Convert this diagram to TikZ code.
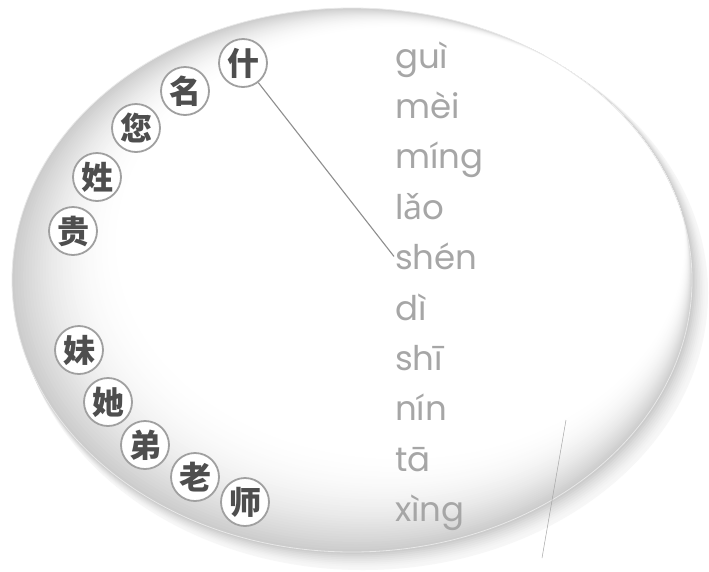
\documentclass[tikz,border=0pt]{standalone}
\usepackage{fontspec}
\newfontfamily\cjk{Noto Sans CJK SC}
\newfontfamily\pyfont{Poppins}
\newfontfamily\pyext{Noto Sans}
\definecolor{ringgray}{HTML}{A0A0A0}
\definecolor{chargray}{HTML}{4E4E4E}
\definecolor{pygray}{HTML}{A6A6A6}
\definecolor{linegray}{HTML}{8E8E8E}
\tikzset{
  chr/.style={circle, fill=white, draw=ringgray, line width=1.8pt, minimum size=48pt, inner sep=0pt,
    text=chargray, font=\cjk\bfseries\fontsize{32}{32}\selectfont},
  py/.style={anchor=base west, inner sep=0pt, text=pygray, font=\pyfont\fontsize{34}{34}\selectfont},
  conn/.style={draw=linegray, line width=1.1pt}
}
\begin{document}
\begin{tikzpicture}[x=1pt, y=-1pt]
\useasboundingbox (0,0) rectangle (709,571);
\fill[white] (0,0) rectangle (709,571);
% soft plate shadow
\foreach \j in {10,...,1}{
  \pgfmathsetmacro\q{3+20*(1-\j/10)^1.5}
  \fill[black!\q!white] ({352+1.1*\j},{280+1.3*\j}) ellipse [x radius={(340+0.5*\j)*1pt}, y radius={(272+0.5*\j)*1pt}];
}
% plate with soft shading
\begin{scope}
\clip (352,280) ellipse [x radius=340pt, y radius=272pt];
\foreach \k in {0,...,40}{
  \pgfmathsetmacro\t{\k/40}
  \pgfmathsetmacro\p{20*(1-\t)*(1-\t)}
  \fill[black!\p!white] ({352+1.3*\k},{280-1.0*\k}) ellipse [x radius={(340-1.5*\k)*1pt}, y radius={(272-1.5*\k)*1pt}];
}
\end{scope}
\draw[black!9, line width=0.8pt] (352,280) ellipse [x radius=340pt, y radius=272pt];
% faint crease
\draw[black!35, line width=0.5pt] (566,420) -- (542,558);
% characters
\node[chr] (c-shen) at (243,63) {什};
\node[chr] (c-ming) at (185,91) {名};
\node[chr] (c-nin)  at (136,128) {您};
\node[chr] (c-xing) at (97,177) {姓};
\node[chr] (c-gui)  at (73,231) {贵};
\node[chr] (c-mei)  at (79,350) {妹};
\node[chr] (c-ta)   at (108,402) {她};
\node[chr] (c-di)   at (145,445) {弟};
\node[chr] (c-lao)  at (195,477) {老};
\node[chr] (c-shi)  at (245,502) {师};
% pinyin
\node[py] (p-gui)  at (395,68)    {guì};
\node[py] (p-mei)  at (395,118.4) {mèi};
\node[py] (p-ming) at (395,168.8) {míng};
\node[py] (p-lao)  at (395,219.2) {l{\pyext ǎ}o};
\node[py] (p-shen) at (395,269.6) {shén};
\node[py] (p-di)   at (395,320)   {dì};
\node[py] (p-shi)  at (395,370.4) {shī};
\node[py] (p-nin)  at (395,420.8) {nín};
\node[py] (p-ta)   at (395,471.2) {tā};
\node[py] (p-xing) at (395,521.6) {xìng};
% connector
\draw[conn] (c-shen) -- ([xshift=-1pt]p-shen.west);
\end{tikzpicture}
\end{document}
